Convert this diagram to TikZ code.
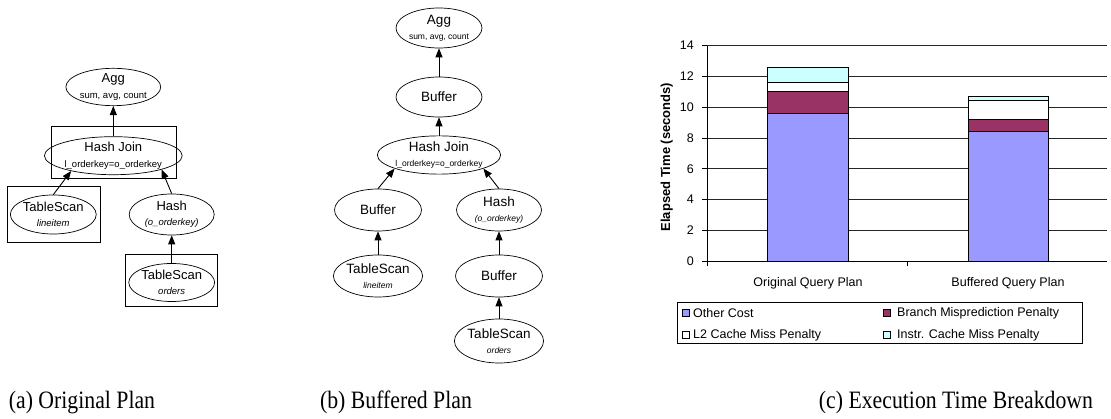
\documentclass[tikz,border=0pt]{standalone}
\usepackage{fontspec}
\usepackage{graphicx}
\setmainfont{Liberation Serif}
\newfontfamily\arial{Liberation Sans}
\usetikzlibrary{shapes.geometric,arrows.meta}
\newcommand\fsz[2]{\fontsize{#1}{#2}\selectfont}
\newcommand\suba[1]{\\{\fsz{9.5}{11}#1}}
\newcommand\subb[1]{\\{\fsz{8.5}{10}#1}}
\newcommand\captext[1]{\scalebox{0.87}[1]{#1}}
\definecolor{othercol}{HTML}{9999FF}
\definecolor{branchcol}{HTML}{993366}
\definecolor{instrcol}{HTML}{CCFFFF}
\tikzset{
  opa/.style={ellipse, draw, line width=0.7pt, inner sep=0pt, align=center, font=\arial\fsz{13}{15.5}},
  opb/.style={ellipse, draw, line width=0.7pt, inner sep=0pt, align=center, font=\arial\fsz{13.5}{15.5}},
  opbox/.style={draw, line width=0.9pt},
  arr/.style={line width=0.9pt, -{Triangle[length=9pt,width=7pt]}},
  gridln/.style={line width=0.8pt, black!85},
  barseg/.style={draw=black, line width=0.8pt},
  chart/.style={font=\arial\fsz{12.5}{15}, inner sep=0pt},
  captxt/.style={font=\fsz{25}{29}, inner sep=0pt, anchor=base},
}
\begin{document}
\begin{tikzpicture}[x=1pt, y=-1pt]
\useasboundingbox[fill=white] (0,0) rectangle (1111,419);

% ---------- (a) Original plan ----------
\draw[opbox] (51.7,126) rectangle (176,178.3);
\draw[opbox] (7.3,186) rectangle (100,242.7);
\draw[opbox] (125,254) rectangle (217.3,306.7);
\node[opa, minimum width=81pt, minimum height=34pt] (agga) at (113.3,87) {Agg\suba{sum, avg, count}};
\node[opa, minimum width=115pt, minimum height=37pt] (hja) at (113.3,155.7) {Hash Join\suba{l\_orderkey=o\_orderkey}};
\node[opa, minimum width=83pt, minimum height=39pt] (tsla) at (53.3,214.5) {TableScan\suba{\itshape lineitem}};
\node[opa, minimum width=85pt, minimum height=41pt] (hasha) at (171.7,214.5) {Hash\suba{\itshape (o\_orderkey)}};
\node[opa, minimum width=84pt, minimum height=38pt] (tsoa) at (171.7,282.5) {TableScan\suba{\itshape orders}};
\draw[arr] (hja) -- (agga);
\draw[arr] (tsla.north) -- (hja.200);
\draw[arr] (hasha.north) -- (hja.344);
\draw[arr] (tsoa) -- (hasha);

% ---------- (b) Buffered plan ----------
\node[opb, minimum width=86pt, minimum height=40pt] (aggb) at (439,28) {Agg\subb{sum, avg, count}};
\node[opb, minimum width=86pt, minimum height=40pt] (bufb) at (439,97) {Buffer};
\node[opb, minimum width=118pt, minimum height=37pt] (hjb) at (439,155) {Hash Join\subb{l\_orderkey=o\_orderkey}};
\node[opb, minimum width=87pt, minimum height=42pt] (bufl) at (378,210) {Buffer};
\node[opb, minimum width=85pt, minimum height=42pt] (hashb) at (499,210) {Hash\subb{\itshape (o\_orderkey)}};
\node[opb, minimum width=87pt, minimum height=42pt] (tslb) at (378,276) {TableScan\subb{\itshape lineitem}};
\node[opb, minimum width=87pt, minimum height=42pt] (bufr) at (499,276) {Buffer};
\node[opb, minimum width=87pt, minimum height=44pt] (tsob) at (499,341) {TableScan\subb{\itshape orders}};
\draw[arr] (bufb) -- (aggb);
\draw[arr] (hjb) -- (bufb);
\draw[arr] (bufl.north) -- (hjb.197);
\draw[arr] (hashb.north) -- (hjb.343);
\draw[arr] (tslb) -- (bufl);
\draw[arr] (bufr) -- (hashb);
\draw[arr] (tsob) -- (bufr);

% ---------- (c) Chart ----------
\begin{scope}[shift={(0,261)}, y=15.38pt]
  \foreach \v in {2,4,...,14} \draw[gridln] (707,\v) -- (1107,\v);
  \foreach \v in {0,2,...,14} {
    \draw[line width=0.8pt] (702,\v) -- (707,\v);
    \node[chart, anchor=east] at (694,\v) {\v};
  }
  % bar 1
  \filldraw[barseg, fill=othercol] (767.7,0) rectangle (848.3,9.6);
  \filldraw[barseg, fill=branchcol] (767.7,9.6) rectangle (848.3,11.0);
  \filldraw[barseg, fill=white] (767.7,11.0) rectangle (848.3,11.6);
  \filldraw[barseg, fill=instrcol] (767.7,11.6) rectangle (848.3,12.6);
  % bar 2
  \filldraw[barseg, fill=othercol] (968.3,0) rectangle (1048.3,8.42);
  \filldraw[barseg, fill=branchcol] (968.3,8.42) rectangle (1048.3,9.22);
  \filldraw[barseg, fill=white] (968.3,9.22) rectangle (1048.3,10.45);
  \filldraw[barseg, fill=instrcol] (968.3,10.45) rectangle (1048.3,10.68);
  % axes
  \draw[line width=0.9pt] (707,0) -- (707,14);
  \draw[line width=0.9pt] (707,0) -- (1107,0);
  \draw[line width=0.8pt] (907,0) -- (907,-0.33);
  \draw[line width=0.8pt] (707,0) -- (707,-0.33);
\end{scope}
\node[chart, rotate=90, font=\arial\bfseries\fsz{13}{15}] (ylab) at (666.7,157) {Elapsed Time (seconds)};
\node[chart] (cat1) at (808,283) {Original Query Plan};
\node[chart] (cat2) at (1008,283) {Buffered Query Plan};

% legend
\draw[line width=0.9pt] (677,302) rectangle (1082,343);
\filldraw[line width=0.6pt, fill=othercol] (682,309.5) rectangle (689,316.5);
\node[chart, anchor=west] (l1) at (693,313) {Other Cost};
\filldraw[line width=0.6pt, fill=branchcol] (883,309.5) rectangle (890,316.5);
\node[chart, anchor=west] (l2) at (897,313) {Branch Misprediction Penalty};
\filldraw[line width=0.6pt, fill=white] (682,331.5) rectangle (689,338.5);
\node[chart, anchor=west] (l3) at (693,335) {L2 Cache Miss Penalty};
\filldraw[line width=0.6pt, fill=instrcol] (883,331.5) rectangle (890,338.5);
\node[chart, anchor=west] (l4) at (897,335) {Instr. Cache Miss Penalty};

% captions
\node[captxt] (capa) at (82,408) {\captext{(a) Original Plan}};
\node[captxt] (capb) at (396,408) {\captext{(b) Buffered Plan}};
\node[captxt] (capc) at (956,408) {\captext{(c) Execution Time Breakdown}};
\end{tikzpicture}
\end{document}
